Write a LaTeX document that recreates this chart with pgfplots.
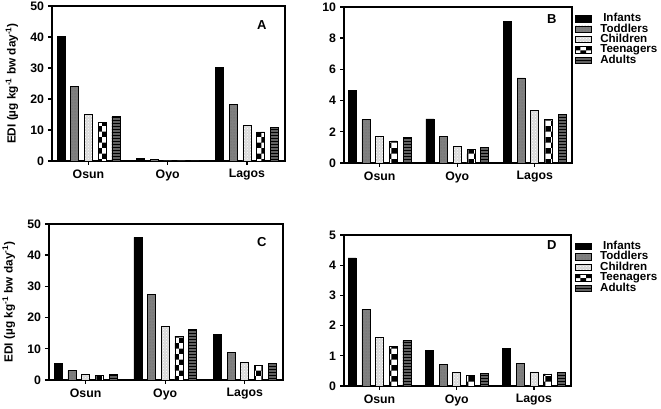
\documentclass[border=0pt]{standalone}
\usepackage{pgfplots}
\pgfplotsset{compat=1.18}
\usepackage{fontspec}
\setmainfont{Liberation Sans}
\usetikzlibrary{patterns}
\definecolor{todd}{gray}{0.50}
\definecolor{chil}{gray}{0.85}
\definecolor{adul}{gray}{0.38}
\pgfplotsset{
  edi/.style={
    scale only axis,
    ybar, bar width=8pt, ybar=5.7pt,
    xmin=-0.46, xmax=2.48, ymin=0,
    xtick={0,1,2}, xticklabels={Osun,Oyo,Lagos},
    xtick pos=left, ytick pos=left,
    tick align=outside,
    major tick length=4pt,
    axis line style={line width=1.6pt},
    every tick/.style={line width=1.4pt, black},
    /pgf/number format/assume math mode=true,
    ticklabel style={font=\bfseries\fontsize{12.3}{13}\selectfont},
    yticklabel style={xshift=-0.5pt},
    xticklabel style={yshift=-1pt},
    ylabel style={font=\bfseries\fontsize{11.8}{12}\selectfont, at={(axis description cs:-0.172,0.5)}, anchor=center},
    legend image code/.code={\draw[##1] (0pt,-3.2pt) rectangle (16pt,3.2pt);},
    legend style={draw=none, fill=none, inner sep=0pt, row sep=0pt,
      font=\bfseries\fontsize{11.6}{12}\selectfont,
      nodes={inner sep=0pt, text height=8.2pt, text depth=2.2pt, anchor=west},
      /tikz/every odd column/.append style={column sep=8.5pt},
      at={(axis description cs:1.013,0.96)}, anchor=north west},
  },
  s1/.style={fill=black, draw=black, line width=0.6pt},
  s2/.style={fill=todd, draw=black, line width=0.6pt, postaction={pattern=dots, pattern color=black!60}},
  s3/.style={fill=chil, draw=black, line width=0.6pt, postaction={pattern=crosshatch dots, pattern color=white}},
  s4/.style={fill=white, draw=black, line width=0.6pt, postaction={pattern=checkerboard, pattern color=black}},
  s5/.style={fill=adul, draw=black, line width=0.6pt, postaction={pattern=horizontal lines, pattern color=black}},
}
\begin{document}
\begin{tikzpicture}
% Panel A
\begin{axis}[edi, at={(52pt,248pt)}, anchor=south west, width=233pt, height=155pt,
  ymax=50, ytick={0,10,20,30,40,50},
  ylabel={EDI (µg kg\textsuperscript{-1} bw day\textsuperscript{-1})}]
\addplot[s1] coordinates {(0,40.1) (1,0.8) (2,30.1)};
\addplot[s2] coordinates {(0,24.0) (1,0.4) (2,18.2)};
\addplot[s3] coordinates {(0,15.1) (1,0.05) (2,11.4)};
\addplot[s4] coordinates {(0,12.5) (1,0.05) (2,9.4)};
\addplot[s5] coordinates {(0,14.3) (1,0.05) (2,10.9)};
\node[font=\bfseries\fontsize{13}{13}\selectfont] at (rel axis cs:0.90,0.877) {A};
\end{axis}
% Panel B
\begin{axis}[edi, at={(344pt,246pt)}, anchor=south west, width=228pt, height=156pt,
  ymax=10, ytick={0,2,4,6,8,10}]
\addplot[s1] coordinates {(0,4.65) (1,2.83) (2,9.07)};
\addplot[s2] coordinates {(0,2.78) (1,1.69) (2,5.45)};
\addplot[s3] coordinates {(0,1.73) (1,1.07) (2,3.38)};
\addplot[s4] coordinates {(0,1.42) (1,0.86) (2,2.78)};
\addplot[s5] coordinates {(0,1.66) (1,1.00) (2,3.10)};
\legend{\hspace{3pt}Infants,Toddlers,Children,Teenagers,Adults}
\node[font=\bfseries\fontsize{13}{13}\selectfont] at (rel axis cs:0.912,0.923) {B};
\end{axis}
% Panel C
\begin{axis}[edi, at={(49pt,29pt)}, anchor=south west, width=234pt, height=156pt,
  ymax=50, ytick={0,10,20,30,40,50},
  ylabel={EDI (µg kg\textsuperscript{-1} bw day\textsuperscript{-1})}]
\addplot[s1] coordinates {(0,5.2) (1,45.7) (2,14.7)};
\addplot[s2] coordinates {(0,3.1) (1,27.4) (2,8.9)};
\addplot[s3] coordinates {(0,1.9) (1,17.1) (2,5.6)};
\addplot[s4] coordinates {(0,1.6) (1,14.1) (2,4.6)};
\addplot[s5] coordinates {(0,1.9) (1,16.3) (2,5.3)};
\node[font=\bfseries\fontsize{13}{13}\selectfont] at (rel axis cs:0.91,0.885) {C};
\end{axis}
% Panel D
\begin{axis}[edi, at={(344pt,23pt)}, anchor=south west, width=227pt, height=151pt,
  ymax=5, ytick={0,1,2,3,4,5},
  legend style={at={(axis description cs:1.017,0.96)}}]
\addplot[s1] coordinates {(0,4.24) (1,1.17) (2,1.24)};
\addplot[s2] coordinates {(0,2.54) (1,0.72) (2,0.75)};
\addplot[s3] coordinates {(0,1.60) (1,0.45) (2,0.47)};
\addplot[s4] coordinates {(0,1.30) (1,0.36) (2,0.40)};
\addplot[s5] coordinates {(0,1.51) (1,0.42) (2,0.45)};
\legend{\hspace{3pt}Infants,Toddlers,Children,Teenagers,Adults}
\node[font=\bfseries\fontsize{13}{13}\selectfont] at (rel axis cs:0.916,0.934) {D};
\end{axis}
\pgfresetboundingbox
\useasboundingbox (0pt,0pt) rectangle (661pt,409pt);
\end{tikzpicture}
\end{document}
